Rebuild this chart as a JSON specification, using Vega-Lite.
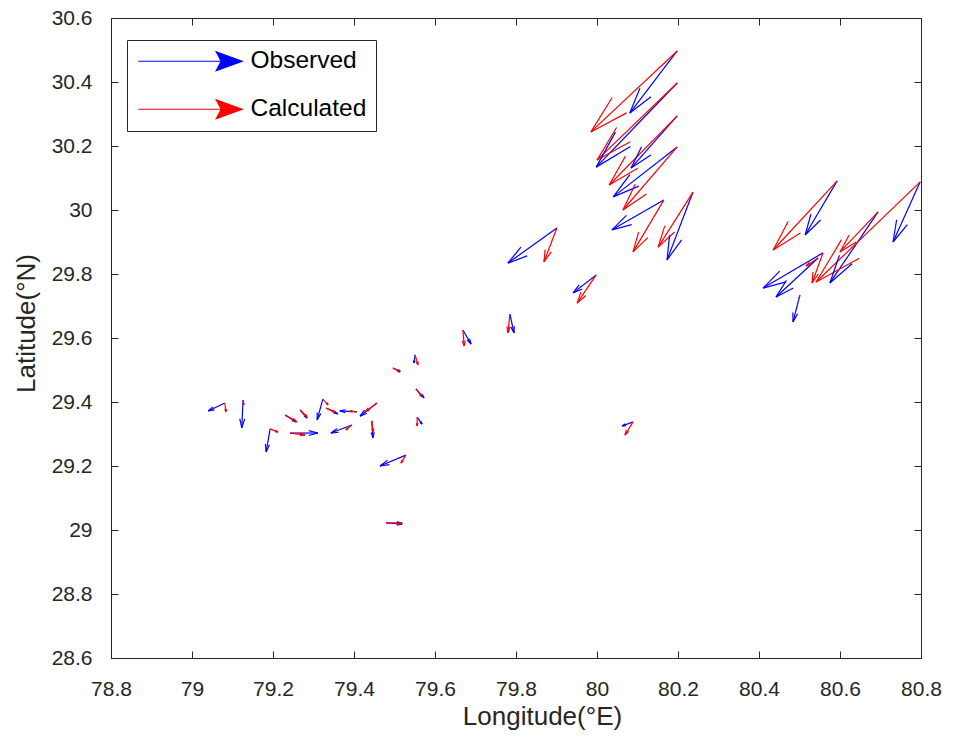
{
  "$schema": "https://vega.github.io/schema/vega-lite/v6.json",
  "width": 810,
  "height": 640,
  "autosize": {"type": "none"},
  "padding": {"left": 111, "top": 18, "right": 32, "bottom": 80},
  "background": "white",
  "config": {
    "view": {"stroke": "#262626", "strokeWidth": 1},
    "axis": {
      "labelFont": "Liberation Sans",
      "titleFont": "Liberation Sans",
      "labelFontSize": 21,
      "titleFontSize": 26,
      "labelColor": "#262626",
      "titleColor": "#262626",
      "titleFontWeight": "normal",
      "domainColor": "#262626",
      "tickColor": "#262626",
      "grid": false,
      "labelFlush": false,
      "tickSize": -7
    }
  },
  "data": {
    "values": [
      {"station": 1, "series": "Observed", "lon": 80.198, "lat": 30.497, "lon2": 80.081, "lat2": 30.303},
      {"station": 2, "series": "Observed", "lon": 80.198, "lat": 30.397, "lon2": 79.998, "lat2": 30.134},
      {"station": 3, "series": "Observed", "lon": 80.198, "lat": 30.294, "lon2": 80.084, "lat2": 30.131},
      {"station": 4, "series": "Observed", "lon": 80.198, "lat": 30.197, "lon2": 80.04, "lat2": 30.041},
      {"station": 5, "series": "Observed", "lon": 80.165, "lat": 30.031, "lon2": 80.037, "lat2": 29.938},
      {"station": 6, "series": "Observed", "lon": 80.237, "lat": 30.056, "lon2": 80.173, "lat2": 29.844},
      {"station": 7, "series": "Observed", "lon": 80.593, "lat": 30.091, "lon2": 80.514, "lat2": 29.922},
      {"station": 8, "series": "Observed", "lon": 80.798, "lat": 30.088, "lon2": 80.731, "lat2": 29.9},
      {"station": 9, "series": "Observed", "lon": 80.694, "lat": 29.994, "lon2": 80.575, "lat2": 29.772},
      {"station": 10, "series": "Observed", "lon": 80.558, "lat": 29.866, "lon2": 80.41, "lat2": 29.756},
      {"station": 11, "series": "Observed", "lon": 80.546, "lat": 29.85, "lon2": 80.442, "lat2": 29.728},
      {"station": 12, "series": "Observed", "lon": 80.501, "lat": 29.734, "lon2": 80.484, "lat2": 29.65},
      {"station": 13, "series": "Observed", "lon": 79.901, "lat": 29.944, "lon2": 79.78, "lat2": 29.834},
      {"station": 14, "series": "Observed", "lon": 79.998, "lat": 29.797, "lon2": 79.941, "lat2": 29.741},
      {"station": 15, "series": "Observed", "lon": 79.669, "lat": 29.625, "lon2": 79.689, "lat2": 29.581},
      {"station": 16, "series": "Observed", "lon": 79.785, "lat": 29.675, "lon2": 79.795, "lat2": 29.616},
      {"station": 17, "series": "Observed", "lon": 80.089, "lat": 29.338, "lon2": 80.062, "lat2": 29.325},
      {"station": 18, "series": "Observed", "lon": 79.551, "lat": 29.547, "lon2": 79.548, "lat2": 29.522},
      {"station": 19, "series": "Observed", "lon": 79.496, "lat": 29.506, "lon2": 79.514, "lat2": 29.494},
      {"station": 20, "series": "Observed", "lon": 79.553, "lat": 29.441, "lon2": 79.573, "lat2": 29.413},
      {"station": 21, "series": "Observed", "lon": 79.556, "lat": 29.353, "lon2": 79.568, "lat2": 29.331},
      {"station": 22, "series": "Observed", "lon": 79.528, "lat": 29.234, "lon2": 79.464, "lat2": 29.2},
      {"station": 23, "series": "Observed", "lon": 79.444, "lat": 29.341, "lon2": 79.447, "lat2": 29.288},
      {"station": 24, "series": "Observed", "lon": 79.457, "lat": 29.397, "lon2": 79.415, "lat2": 29.356},
      {"station": 25, "series": "Observed", "lon": 79.407, "lat": 29.369, "lon2": 79.365, "lat2": 29.372},
      {"station": 26, "series": "Observed", "lon": 79.395, "lat": 29.328, "lon2": 79.343, "lat2": 29.303},
      {"station": 27, "series": "Observed", "lon": 79.081, "lat": 29.397, "lon2": 79.04, "lat2": 29.372},
      {"station": 28, "series": "Observed", "lon": 79.126, "lat": 29.406, "lon2": 79.123, "lat2": 29.319},
      {"station": 29, "series": "Observed", "lon": 79.193, "lat": 29.316, "lon2": 79.183, "lat2": 29.244},
      {"station": 30, "series": "Observed", "lon": 79.23, "lat": 29.359, "lon2": 79.257, "lat2": 29.338},
      {"station": 31, "series": "Observed", "lon": 79.267, "lat": 29.375, "lon2": 79.284, "lat2": 29.35},
      {"station": 32, "series": "Observed", "lon": 79.242, "lat": 29.303, "lon2": 79.311, "lat2": 29.303},
      {"station": 33, "series": "Observed", "lon": 79.323, "lat": 29.409, "lon2": 79.309, "lat2": 29.344},
      {"station": 34, "series": "Observed", "lon": 79.331, "lat": 29.381, "lon2": 79.36, "lat2": 29.363},
      {"station": 35, "series": "Observed", "lon": 79.479, "lat": 29.022, "lon2": 79.519, "lat2": 29.019},
      {"station": 1, "series": "Calculated", "lon": 80.198, "lat": 30.497, "lon2": 79.985, "lat2": 30.244},
      {"station": 2, "series": "Calculated", "lon": 80.198, "lat": 30.397, "lon2": 80.0, "lat2": 30.156},
      {"station": 3, "series": "Calculated", "lon": 80.198, "lat": 30.294, "lon2": 80.03, "lat2": 30.078},
      {"station": 4, "series": "Calculated", "lon": 80.198, "lat": 30.197, "lon2": 80.064, "lat2": 30.0},
      {"station": 5, "series": "Calculated", "lon": 80.165, "lat": 30.031, "lon2": 80.089, "lat2": 29.869},
      {"station": 6, "series": "Calculated", "lon": 80.237, "lat": 30.056, "lon2": 80.151, "lat2": 29.884},
      {"station": 7, "series": "Calculated", "lon": 80.593, "lat": 30.091, "lon2": 80.435, "lat2": 29.875},
      {"station": 8, "series": "Calculated", "lon": 80.798, "lat": 30.088, "lon2": 80.541, "lat2": 29.775},
      {"station": 9, "series": "Calculated", "lon": 80.694, "lat": 29.994, "lon2": 80.6, "lat2": 29.869},
      {"station": 10, "series": "Calculated", "lon": 80.558, "lat": 29.866, "lon2": 80.531, "lat2": 29.772},
      {"station": 11, "series": "Calculated", "lon": 80.546, "lat": 29.85, "lon2": 80.516, "lat2": 29.825},
      {"station": 12, "series": "Calculated", "lon": 80.501, "lat": 29.734, "lon2": 80.499, "lat2": 29.725},
      {"station": 13, "series": "Calculated", "lon": 79.901, "lat": 29.944, "lon2": 79.869, "lat2": 29.838},
      {"station": 14, "series": "Calculated", "lon": 79.998, "lat": 29.797, "lon2": 79.951, "lat2": 29.709},
      {"station": 15, "series": "Calculated", "lon": 79.669, "lat": 29.625, "lon2": 79.672, "lat2": 29.575},
      {"station": 16, "series": "Calculated", "lon": 79.785, "lat": 29.675, "lon2": 79.78, "lat2": 29.616},
      {"station": 17, "series": "Calculated", "lon": 80.089, "lat": 29.338, "lon2": 80.069, "lat2": 29.297},
      {"station": 18, "series": "Calculated", "lon": 79.551, "lat": 29.547, "lon2": 79.558, "lat2": 29.516},
      {"station": 19, "series": "Calculated", "lon": 79.496, "lat": 29.506, "lon2": 79.514, "lat2": 29.497},
      {"station": 20, "series": "Calculated", "lon": 79.553, "lat": 29.441, "lon2": 79.568, "lat2": 29.416},
      {"station": 21, "series": "Calculated", "lon": 79.556, "lat": 29.353, "lon2": 79.556, "lat2": 29.325},
      {"station": 22, "series": "Calculated", "lon": 79.528, "lat": 29.234, "lon2": 79.516, "lat2": 29.209},
      {"station": 23, "series": "Calculated", "lon": 79.444, "lat": 29.341, "lon2": 79.447, "lat2": 29.306},
      {"station": 24, "series": "Calculated", "lon": 79.457, "lat": 29.397, "lon2": 79.427, "lat2": 29.369},
      {"station": 25, "series": "Calculated", "lon": 79.407, "lat": 29.369, "lon2": 79.39, "lat2": 29.372},
      {"station": 26, "series": "Calculated", "lon": 79.395, "lat": 29.328, "lon2": 79.38, "lat2": 29.313},
      {"station": 27, "series": "Calculated", "lon": 79.081, "lat": 29.397, "lon2": 79.084, "lat2": 29.369},
      {"station": 28, "series": "Calculated", "lon": 79.126, "lat": 29.406, "lon2": 79.128, "lat2": 29.391},
      {"station": 29, "series": "Calculated", "lon": 79.193, "lat": 29.316, "lon2": 79.212, "lat2": 29.306},
      {"station": 30, "series": "Calculated", "lon": 79.23, "lat": 29.359, "lon2": 79.259, "lat2": 29.338},
      {"station": 31, "series": "Calculated", "lon": 79.267, "lat": 29.375, "lon2": 79.284, "lat2": 29.353},
      {"station": 32, "series": "Calculated", "lon": 79.242, "lat": 29.303, "lon2": 79.279, "lat2": 29.297},
      {"station": 33, "series": "Calculated", "lon": 79.323, "lat": 29.409, "lon2": 79.336, "lat2": 29.391},
      {"station": 34, "series": "Calculated", "lon": 79.331, "lat": 29.381, "lon2": 79.353, "lat2": 29.369},
      {"station": 35, "series": "Calculated", "lon": 79.479, "lat": 29.022, "lon2": 79.519, "lat2": 29.022}
    ]
  },
  "resolve": {"axis": {"x": "independent", "y": "independent"}},
  "layer": [
    {
      "mark": {"type": "rule", "strokeWidth": 1.2},
      "encoding": {
        "x": {
          "field": "lon", "type": "quantitative",
          "scale": {"domain": [78.8, 80.8], "nice": false, "zero": false},
          "axis": {
            "values": [78.8, 79, 79.2, 79.4, 79.6, 79.8, 80, 80.2, 80.4, 80.6, 80.8],
            "format": "~g", "title": "Longitude(°E)", "labelPadding": 27, "titlePadding": 4,
            "titleX": 431, "domain": false
          }
        },
        "y": {
          "field": "lat", "type": "quantitative",
          "scale": {"domain": [28.6, 30.6], "nice": false, "zero": false},
          "axis": {
            "values": [28.6, 28.8, 29, 29.2, 29.4, 29.6, 29.8, 30, 30.2, 30.4, 30.6],
            "format": "~g", "title": "Latitude(°N)", "labelPadding": 26, "titlePadding": 12,
            "titleY": 305, "domain": false
          }
        },
        "x2": {"field": "lon2"},
        "y2": {"field": "lat2"},
        "color": {
          "field": "series", "type": "nominal",
          "scale": {"domain": ["Observed", "Calculated"], "range": ["#0000ff", "#ff0000"]},
          "legend": {
            "orient": "none", "legendX": 16, "legendY": 22, "title": null,
            "symbolType": "M-1,0L7.3,0M9.4,0L6.8,-0.95L7.3,0L6.8,0.95Z",
            "symbolSize": 400, "symbolStrokeWidth": 1.2,
            "labelFont": "Liberation Sans", "labelFontSize": 24.5, "labelColor": "#000000",
            "labelOffset": 90, "rowPadding": 22, "padding": 9,
            "strokeColor": "#262626", "fillColor": "#ffffff",
            "encode": {"symbols": {"update": {"fill": {"scale": "color", "field": "value"}, "opacity": {"value": 1}}}}
          }
        }
      }
    },
    {
      "transform": [
        {"calculate": "datum.lon2 - 0.33 * ((datum.lon2 - datum.lon) + 0.27 * 0.79 * (datum.lat2 - datum.lat))", "as": "hx"},
        {"calculate": "datum.lat2 - 0.33 * ((datum.lat2 - datum.lat) - 0.27 * 1.2656 * (datum.lon2 - datum.lon))", "as": "hy"}
      ],
      "mark": {"type": "rule", "strokeWidth": 1.2},
      "encoding": {
        "x": {"field": "lon2", "type": "quantitative", "axis": null, "scale": {"domain": [78.8, 80.8], "nice": false, "zero": false}},
        "y": {"field": "lat2", "type": "quantitative", "axis": null, "scale": {"domain": [28.6, 30.6], "nice": false, "zero": false}},
        "x2": {"field": "hx"},
        "y2": {"field": "hy"},
        "color": {"field": "series", "type": "nominal", "legend": null}
      }
    },
    {
      "transform": [
        {"calculate": "datum.lon2 - 0.33 * ((datum.lon2 - datum.lon) - 0.27 * 0.79 * (datum.lat2 - datum.lat))", "as": "hx"},
        {"calculate": "datum.lat2 - 0.33 * ((datum.lat2 - datum.lat) + 0.27 * 1.2656 * (datum.lon2 - datum.lon))", "as": "hy"}
      ],
      "mark": {"type": "rule", "strokeWidth": 1.2},
      "encoding": {
        "x": {"field": "lon2", "type": "quantitative", "axis": null, "scale": {"domain": [78.8, 80.8], "nice": false, "zero": false}},
        "y": {"field": "lat2", "type": "quantitative", "axis": null, "scale": {"domain": [28.6, 30.6], "nice": false, "zero": false}},
        "x2": {"field": "hx"},
        "y2": {"field": "hy"},
        "color": {"field": "series", "type": "nominal", "legend": null}
      }
    },
    {
      "mark": {"type": "point", "opacity": 0},
      "encoding": {
        "x": {
          "field": "lon", "type": "quantitative",
          "scale": {"domain": [78.8, 80.8], "nice": false, "zero": false},
          "axis": {"orient": "top", "values": [78.8, 79, 79.2, 79.4, 79.6, 79.8, 80, 80.2, 80.4, 80.6, 80.8], "labels": false, "title": null, "domain": false}
        },
        "y": {
          "field": "lat", "type": "quantitative",
          "scale": {"domain": [28.6, 30.6], "nice": false, "zero": false},
          "axis": {"orient": "right", "values": [28.6, 28.8, 29, 29.2, 29.4, 29.6, 29.8, 30, 30.2, 30.4, 30.6], "labels": false, "title": null, "domain": false}
        }
      }
    }
  ]
}
